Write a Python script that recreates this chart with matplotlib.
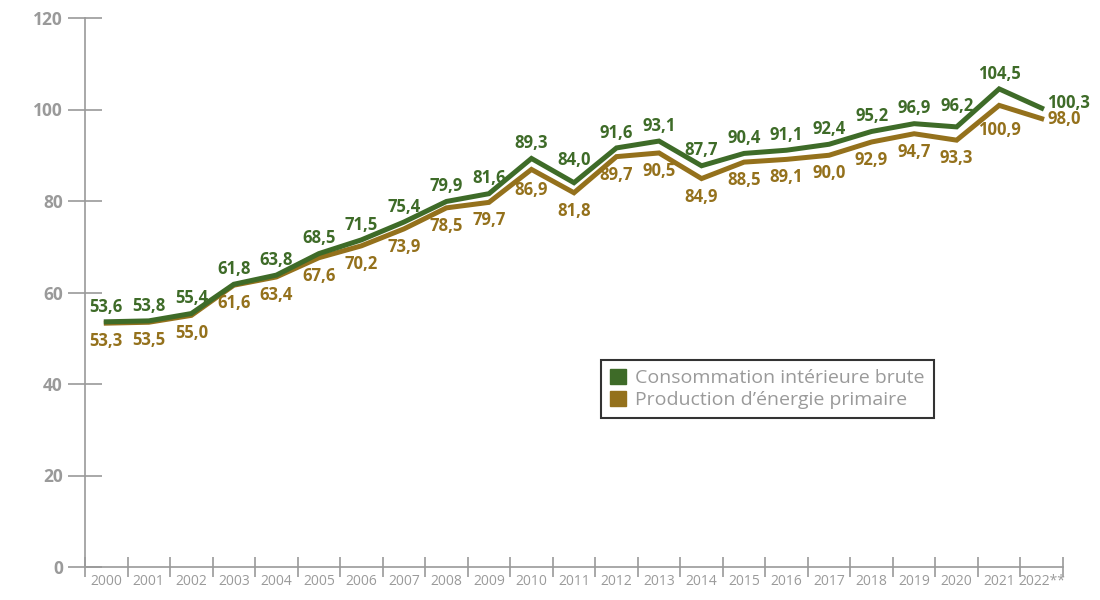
import matplotlib
matplotlib.use("Agg")
import matplotlib.pyplot as plt
from matplotlib.patches import Patch

years = ["2000", "2001", "2002", "2003", "2004", "2005", "2006", "2007", "2008", "2009",
         "2010", "2011", "2012", "2013", "2014", "2015", "2016", "2017", "2018", "2019",
         "2020", "2021", "2022**"]
consommation = [53.6, 53.8, 55.4, 61.8, 63.8, 68.5, 71.5, 75.4, 79.9, 81.6,
                89.3, 84.0, 91.6, 93.1, 87.7, 90.4, 91.1, 92.4, 95.2, 96.9,
                96.2, 104.5, 100.3]
production = [53.3, 53.5, 55.0, 61.6, 63.4, 67.6, 70.2, 73.9, 78.5, 79.7,
              86.9, 81.8, 89.7, 90.5, 84.9, 88.5, 89.1, 90.0, 92.9, 94.7,
              93.3, 100.9, 98.0]
y_ticks = [0, 20, 40, 60, 80, 100, 120]

GREEN = "#3e6b28"
BROWN = "#94711c"
GRAY = "#9a9a9a"
plt.rcParams['font.family'] = ['Open Sans', 'DejaVu Sans']

fig = plt.figure(figsize=(11, 6), dpi=100)
ax = fig.add_axes([0.0773, 0.055, 0.889, 0.915])

x = list(range(len(years)))
ax.plot(x, consommation, color=GREEN, lw=3.6, solid_joinstyle='miter', zorder=3)
ax.plot(x, production, color=BROWN, lw=3.6, solid_joinstyle='miter', zorder=2)

def fmt(v):
    return f"{v:.1f}".replace(".", ",")

n = len(years)
# extra label lift for local minima / maxima where a label would touch the lines
extra_green = {11: 5, 20: 4}
extra_brown = {10: 2, 21: 5}
for i in range(n):
    if i == n - 1:
        ax.annotate(fmt(consommation[i]), (x[i], consommation[i]), xytext=(4, 4),
                    textcoords='offset points', ha='left', va='center',
                    color=GREEN, fontsize=12, fontweight='bold')
        ax.annotate(fmt(production[i]), (x[i], production[i]), xytext=(4, 0),
                    textcoords='offset points', ha='left', va='center',
                    color=BROWN, fontsize=12, fontweight='bold')
    else:
        ax.annotate(fmt(consommation[i]), (x[i], consommation[i]),
                    xytext=(0, 11 + extra_green.get(i, 0)),
                    textcoords='offset points', ha='center', va='center',
                    color=GREEN, fontsize=12, fontweight='bold')
        ax.annotate(fmt(production[i]), (x[i], production[i]),
                    xytext=(0, -13 - extra_brown.get(i, 0)),
                    textcoords='offset points', ha='center', va='center',
                    color=BROWN, fontsize=12, fontweight='bold')

ax.set_xlim(-0.5, n - 0.5)
ax.set_ylim(0, 120)
ax.set_yticks(y_ticks)
ax.set_yticklabels([str(v) for v in y_ticks], fontweight='bold', fontsize=12.5, color=GRAY)
ax.set_xticks([i - 0.5 for i in range(n + 1)])
ax.set_xticklabels([])
ax.set_xticks(x, minor=True)
ax.set_xticklabels(years, minor=True, fontsize=10, color=GRAY)
ax.tick_params(axis='x', which='minor', length=0, pad=5)
ax.tick_params(axis='x', which='major', direction='inout', length=14, width=1.2, color=GRAY)
ax.tick_params(axis='y', direction='inout', length=24, width=1.2, color=GRAY, pad=4)

for s in ['top', 'right']:
    ax.spines[s].set_visible(False)
for s in ['left', 'bottom']:
    ax.spines[s].set_color(GRAY)
    ax.spines[s].set_linewidth(1.2)

handles = [Patch(facecolor=GREEN, edgecolor=GREEN, label="Consommation intérieure brute"),
           Patch(facecolor=BROWN, edgecolor=BROWN, label="Production d’énergie primaire")]
leg = ax.legend(handles=handles, loc='upper left', bbox_to_anchor=(0.528, 0.377),
                frameon=True, fancybox=False, fontsize=14, handlelength=0.8,
                handleheight=0.8, handletextpad=0.5, borderpad=0.45, labelspacing=0.2,
                borderaxespad=0)
leg.get_frame().set_edgecolor('black')
leg.get_frame().set_linewidth(1.5)
for t in leg.get_texts():
    t.set_color(GRAY)

fig.savefig("out.png", dpi=100)
